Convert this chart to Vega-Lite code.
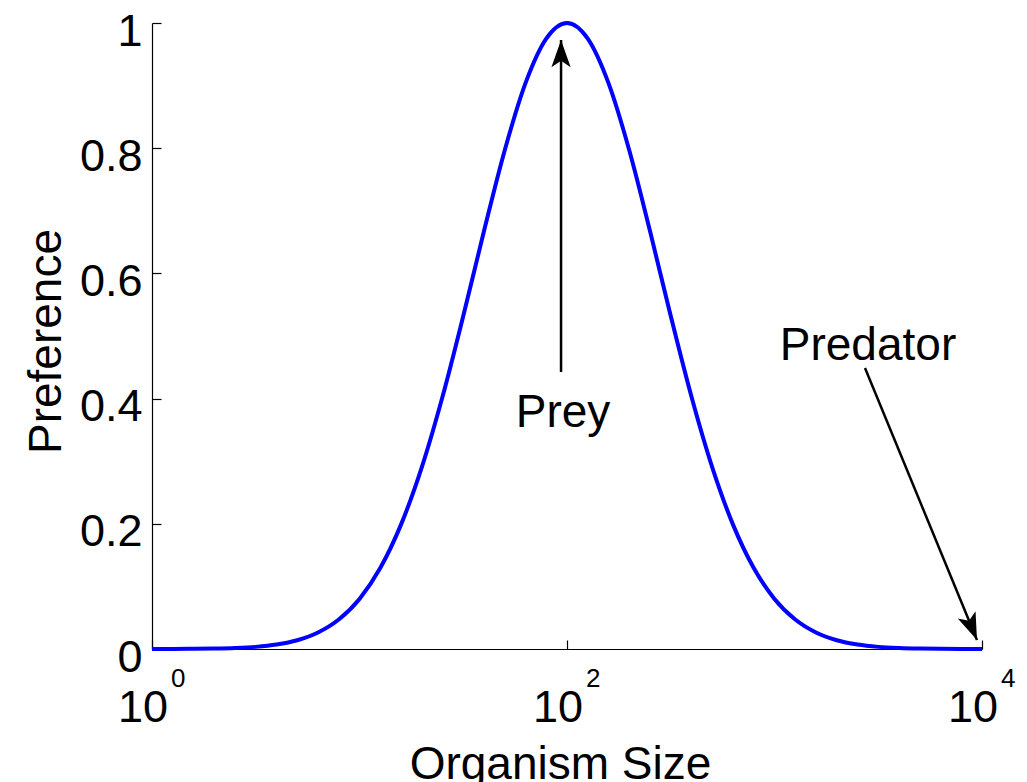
{
  "$schema": "https://vega.github.io/schema/vega-lite/v6.json",
  "width": 830,
  "height": 626,
  "autosize": "none",
  "padding": {"left": 152, "top": 23, "right": 45, "bottom": 133},
  "background": "white",
  "config": {
    "view": {"stroke": null},
    "font": "Liberation Sans",
    "axis": {
      "grid": false,
      "domainColor": "black",
      "domainWidth": 1.2,
      "tickColor": "black",
      "tickWidth": 1.2,
      "labelColor": "black",
      "titleColor": "black",
      "labelFont": "Liberation Sans",
      "titleFont": "Liberation Sans",
      "titleFontWeight": "normal"
    }
  },
  "datasets": {
    "curve": [
      {"size": 1, "preference": 0},
      {"size": 1.2589, "preference": 0.0001},
      {"size": 1.5849, "preference": 0.0003},
      {"size": 1.9953, "preference": 0.0007},
      {"size": 2.5119, "preference": 0.0016},
      {"size": 3.1623, "preference": 0.0034},
      {"size": 3.9811, "preference": 0.0071},
      {"size": 5.0119, "preference": 0.014},
      {"size": 6.3096, "preference": 0.0264},
      {"size": 7.9433, "preference": 0.0471},
      {"size": 10, "preference": 0.08},
      {"size": 12.589, "preference": 0.1293},
      {"size": 15.849, "preference": 0.1987},
      {"size": 19.953, "preference": 0.2901},
      {"size": 25.119, "preference": 0.4029},
      {"size": 31.623, "preference": 0.5319},
      {"size": 39.811, "preference": 0.6676},
      {"size": 50.119, "preference": 0.7967},
      {"size": 63.096, "preference": 0.9039},
      {"size": 79.433, "preference": 0.975},
      {"size": 100, "preference": 1},
      {"size": 125.89, "preference": 0.975},
      {"size": 158.49, "preference": 0.9039},
      {"size": 199.53, "preference": 0.7967},
      {"size": 251.19, "preference": 0.6676},
      {"size": 316.23, "preference": 0.5319},
      {"size": 398.11, "preference": 0.4029},
      {"size": 501.19, "preference": 0.2901},
      {"size": 630.96, "preference": 0.1987},
      {"size": 794.33, "preference": 0.1293},
      {"size": 1000, "preference": 0.08},
      {"size": 1258.9, "preference": 0.0471},
      {"size": 1584.9, "preference": 0.0264},
      {"size": 1995.3, "preference": 0.014},
      {"size": 2511.9, "preference": 0.0071},
      {"size": 3162.3, "preference": 0.0034},
      {"size": 3981.1, "preference": 0.0016},
      {"size": 5011.9, "preference": 0.0007},
      {"size": 6309.6, "preference": 0.0003},
      {"size": 7943.3, "preference": 0.0001},
      {"size": 10000, "preference": 0}
    ],
    "notes": [
      {"label": "Prey", "fromX": 93.6, "fromY": 0.4425, "toX": 93.6, "toY": 0.9728, "textX": 95.7, "textY": 0.3546},
      {"label": "Predator", "fromX": 2730, "fromY": 0.4489, "toX": 9461, "toY": 0.0144, "textX": 2822, "textY": 0.4617}
    ],
    "xticks": [
      {"size": 1, "base": "10", "exp": "0"},
      {"size": 100, "base": "10", "exp": "2"},
      {"size": 10000, "base": "10", "exp": "4"}
    ]
  },
  "layer": [
    {
      "data": {"name": "curve"},
      "mark": {"type": "line", "color": "#0000ff", "strokeWidth": 4, "interpolate": "monotone", "clip": false},
      "encoding": {
        "x": {
          "field": "size",
          "type": "quantitative",
          "scale": {"type": "log", "domain": [1, 10000]},
          "axis": {
            "title": "Organism Size",
            "values": [1, 100, 10000],
            "labels": false,
            "tickSize": -9,
            "titleFontSize": 46,
            "titleX": 408,
            "titleY": 129,
            "titleBaseline": "alphabetic",
            "titleAlign": "center"
          }
        },
        "y": {
          "field": "preference",
          "type": "quantitative",
          "scale": {"domain": [0, 1]},
          "axis": {
            "title": "Preference",
            "values": [0, 0.2, 0.4, 0.6, 0.8, 1],
            "format": "~g",
            "tickSize": -9,
            "labelFontSize": 45,
            "labelPadding": 19,
            "labelOffset": 8,
            "titleFontSize": 46,
            "titleX": -92,
            "titleY": 318,
            "titleBaseline": "alphabetic",
            "titleAlign": "center",
            "titleAngle": -90
          }
        }
      }
    },
    {
      "data": {"name": "notes"},
      "mark": {"type": "rule", "color": "black", "strokeWidth": 2.5},
      "encoding": {
        "x": {"field": "fromX", "type": "quantitative"},
        "y": {"field": "fromY", "type": "quantitative"},
        "x2": {"field": "toX"},
        "y2": {"field": "toY"}
      }
    },
    {
      "data": {"name": "notes"},
      "transform": [{"filter": "datum.label === 'Prey'"}],
      "mark": {"type": "point", "shape": "M0,0L0.6,1.7L0,1.3L-0.6,1.7Z", "size": 1024, "filled": true, "color": "black", "opacity": 1, "angle": 0},
      "encoding": {
        "x": {"field": "toX", "type": "quantitative"},
        "y": {"field": "toY", "type": "quantitative"}
      }
    },
    {
      "data": {"name": "notes"},
      "transform": [{"filter": "datum.label === 'Predator'"}],
      "mark": {"type": "point", "shape": "M0,0L0.6,1.7L0,1.3L-0.6,1.7Z", "size": 1024, "filled": true, "color": "black", "opacity": 1, "angle": 157.6},
      "encoding": {
        "x": {"field": "toX", "type": "quantitative"},
        "y": {"field": "toY", "type": "quantitative"}
      }
    },
    {
      "data": {"name": "notes"},
      "mark": {"type": "text", "fontSize": 46, "align": "center", "baseline": "alphabetic", "color": "black"},
      "encoding": {
        "x": {"field": "textX", "type": "quantitative"},
        "y": {"field": "textY", "type": "quantitative"},
        "text": {"field": "label"}
      }
    },
    {
      "data": {"name": "xticks"},
      "mark": {"type": "text", "fontSize": 45, "align": "right", "baseline": "alphabetic", "dx": 16, "dy": 73, "color": "black"},
      "encoding": {
        "x": {"field": "size", "type": "quantitative"},
        "y": {"datum": 0},
        "text": {"field": "base"}
      }
    },
    {
      "data": {"name": "xticks"},
      "mark": {"type": "text", "fontSize": 26, "align": "left", "baseline": "alphabetic", "dx": 19, "dy": 38, "color": "black"},
      "encoding": {
        "x": {"field": "size", "type": "quantitative"},
        "y": {"datum": 0},
        "text": {"field": "exp"}
      }
    }
  ]
}
